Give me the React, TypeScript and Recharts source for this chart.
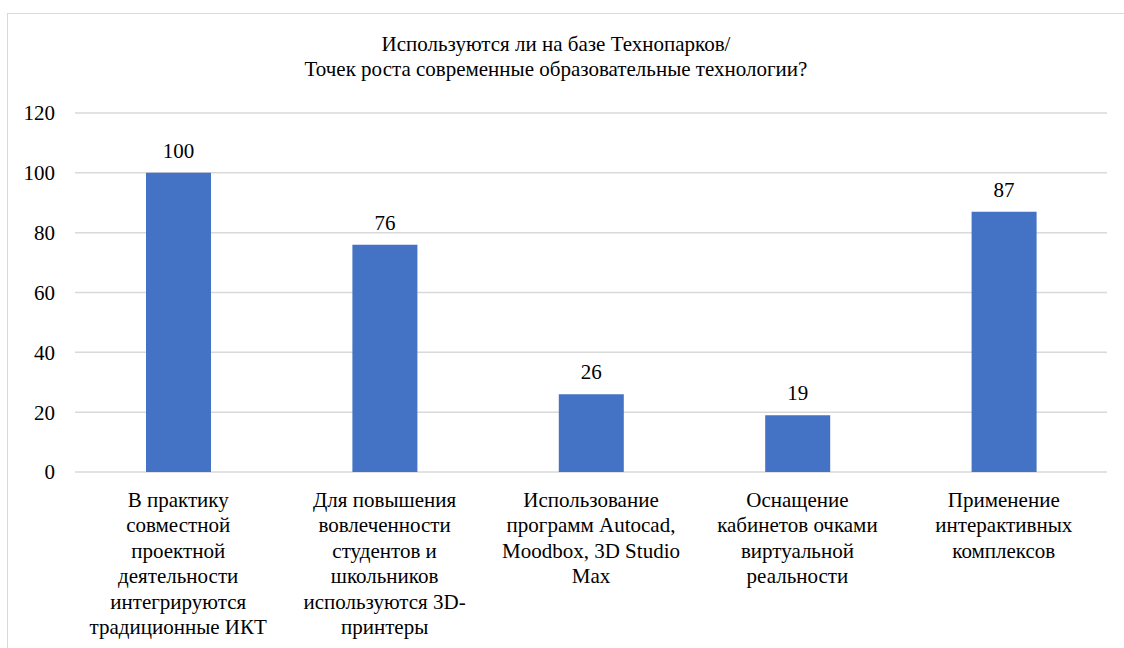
import React from "react";
import { BarChart, Bar, XAxis, YAxis, CartesianGrid, LabelList } from "recharts";

const titleLines = [
  "Используются ли на базе Технопарков/",
  "Точек роста современные образовательные технологии?",
];

const categories = [
  "В практику\nсовместной\nпроектной\nдеятельности\nинтегрируются\nтрадиционные ИКТ",
  "Для повышения\nвовлеченности\nстудентов и\nшкольников\nиспользуются 3D-\nпринтеры",
  "Использование\nпрограмм Autocad,\nMoodbox, 3D Studio\nMax",
  "Оснащение\nкабинетов очками\nвиртуальной\nреальности",
  "Применение\nинтерактивных\nкомплексов",
];

const values = [100, 76, 26, 19, 87];
const yTicks = [0, 20, 40, 60, 80, 100, 120];

const data = categories.map((c, i) => ({ category: c, value: values[i] }));

const FONT = '"Times New Roman", "Liberation Serif", "DejaVu Serif", serif';
const FS = 21;

const CategoryTick = (props: any) => {
  const { x, y, payload } = props;
  const lines = String(payload.value).split("\n");
  return (
    <text x={x} y={y} textAnchor="middle" style={{ fontFamily: FONT, fontSize: FS }} fill="#000">
      {lines.map((l: string, i: number) => (
        <tspan key={i} x={x} dy={i === 0 ? 27 : 25.4}>
          {l}
        </tspan>
      ))}
    </text>
  );
};

export default function App() {
  return (
    <div style={{ position: "absolute", left: 0, top: 0, width: 1124, height: 648, overflow: "hidden", background: "#fff", fontFamily: FONT }}>
      <div
        style={{
          position: "absolute",
          left: 7,
          top: 13,
          width: 1140,
          height: 660,
          border: "1px solid #d9d9d9",
          boxSizing: "border-box",
        }}
      />
      <div
        style={{
          position: "absolute",
          left: 0,
          top: 32,
          width: 1112,
          textAlign: "center",
          fontFamily: FONT,
          fontSize: FS,
          lineHeight: "25px",
          color: "#000",
        }}
      >
        {titleLines.map((t, i) => (
          <div key={i}>{t}</div>
        ))}
      </div>
      <div style={{ position: "absolute", left: 0, top: 0 }}>
        <BarChart
          width={1124}
          height={648}
          data={data}
          margin={{ top: 113, right: 17, bottom: 0, left: 0 }}
          barSize={65}
          style={{ fontFamily: FONT }}
        >
          <CartesianGrid vertical={false} stroke="#d9d9d9" strokeWidth={1.5} />
          <XAxis
            dataKey="category"
            axisLine={false}
            tickLine={false}
            height={176}
            interval={0}
            tick={<CategoryTick />}
          />
          <YAxis
            width={75}
            domain={[0, 120]}
            ticks={yTicks}
            axisLine={false}
            tickLine={false}
            tickSize={0}
            tickMargin={20}
            tick={{ style: { fontFamily: FONT }, fontSize: FS, fill: "#000" }}
          />
          <Bar dataKey="value" fill="#4472C4" isAnimationActive={false}>
            <LabelList
              dataKey="value"
              position="top"
              offset={15}
              style={{ fontFamily: FONT, fontSize: FS, fill: "#000" }}
            />
          </Bar>
        </BarChart>
      </div>
    </div>
  );
}
